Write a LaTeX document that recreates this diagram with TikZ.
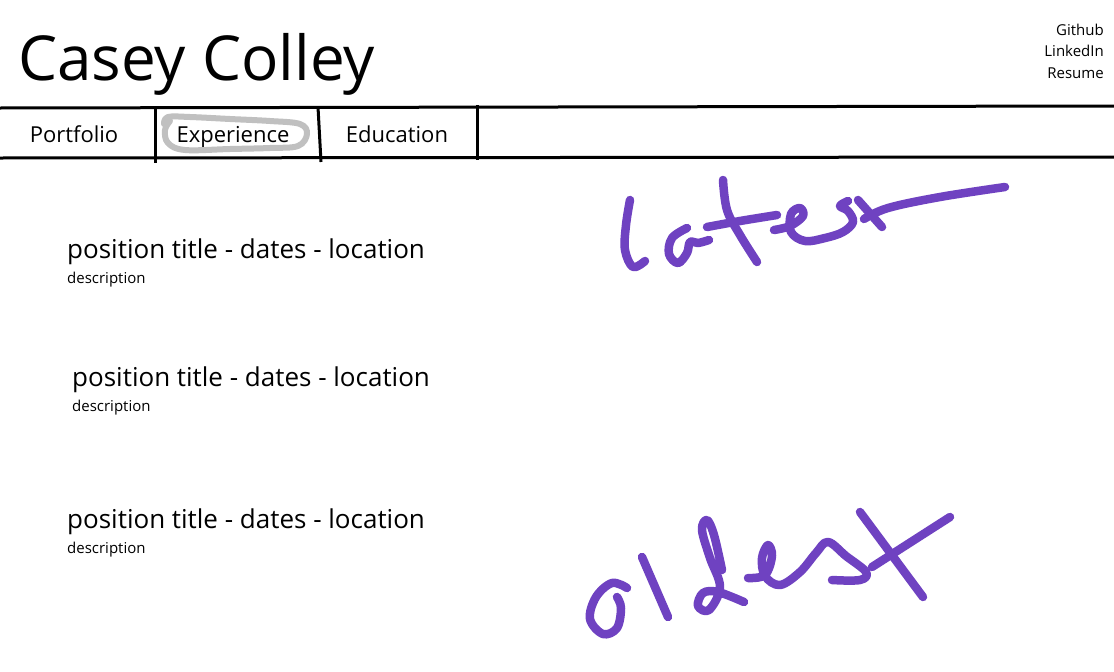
\documentclass[tikz,border=0pt]{standalone}
\usepackage{fontspec}
\setmainfont{Open Sans}
\usetikzlibrary{positioning,calc}
\definecolor{ink}{RGB}{111,66,193}
\definecolor{marker}{RGB}{192,192,192}

\begin{document}
\begin{tikzpicture}[x=1pt, y=-1pt,
    titletext/.style={font=\fontsize{62}{62}\selectfont, inner sep=0pt, anchor=base west},
    link/.style={font=\fontsize{15}{15}\selectfont, inner sep=0pt, anchor=base east},
    tab/.style={font=\fontsize{22}{22}\selectfont, inner sep=0pt, anchor=base},
    jobtitle/.style={font=\fontsize{26}{26}\selectfont, inner sep=0pt, anchor=base west},
    desc/.style={font=\fontsize{15}{15}\selectfont, inner sep=0pt, anchor=base west},
    rule/.style={line width=3pt},
    pen/.style={draw=ink, line width=8.5pt, line cap=round, line join=round}
  ]
    \useasboundingbox[fill=white] (0,0) rectangle (1114,672);

    % header
    \node[titletext] (name) at (18,80) {Casey Colley};
    \node[link] (github) at (1104,35) {Github};
    \node[link] (linkedin) at ([yshift=-21.5pt]github.base east) {LinkedIn};
    \node[link] (resume) at ([yshift=-21.5pt]linkedin.base east) {Resume};

    % tab bar
    \coordinate (barTL) at (0,108);
    \coordinate (barTR) at (1114,106);
    \coordinate (barBL) at (0,158);
    \coordinate (barBR) at (1114,157);
    \draw[rule] (barTL) -- (barTR);
    \draw[rule] (barBL) -- (barBR);
    \coordinate (div1t) at (155,108); \coordinate (div1b) at (155,163);
    \coordinate (div2t) at (318,107); \coordinate (div2b) at (321,162);
    \coordinate (div3t) at (477,105); \coordinate (div3b) at (477,160);
    \draw[rule] (div1t) -- (div1b);
    \draw[rule] (div2t) -- (div2b);
    \draw[rule] (div3t) -- (div3b);

    \node[tab] (portfolio) at (74,142) {Portfolio};
    \node[tab] (experience) at (233,142) {Experience};
    \node[tab] (education) at (397,142) {Education};

    % marker around the current tab
    \draw[marker, line width=6pt, line cap=round, line join=round]
      plot[smooth, tension=0.6] coordinates {(170,121) (165,130) (168,143) (185,150) (230,149)
        (270,148) (298,146) (307,134) (300,124) (270,121) (230,119) (190,117) (168,117) (164,124)};

    % entries
    \node[jobtitle] (job1) at (67,258) {position title - dates - location};
    \node[desc] (desc1) at ([yshift=-25pt]job1.base west) {description};
    \node[jobtitle] (job2) at (72,386) {position title - dates - location};
    \node[desc] (desc2) at ([yshift=-25pt]job2.base west) {description};
    \node[jobtitle] (job3) at (67,528) {position title - dates - location};
    \node[desc] (desc3) at ([yshift=-25pt]job3.base west) {description};

    % handwritten "latest"
    \draw[pen] plot[smooth, tension=0.6] coordinates {(630,200) (626,225) (625,250) (633,267) (645,261)};
    \draw[pen] plot[smooth, tension=0.6] coordinates {(687,228) (672,238) (669,254) (678,263)
      (687,253) (690,242) (698,243) (709,240)};
    \draw[pen] plot[smooth, tension=0.6] coordinates {(707,227) (740,221) (777,215)};
    \draw[pen] plot[smooth, tension=0.6] coordinates {(723,180) (727,210) (740,235) (757,262)};
    \draw[pen] plot[smooth, tension=0.6] coordinates {(774,230) (790,226) (803,216) (800,208)
      (791,214) (791,232) (805,241) (825,238) (843,232) (853,222) (848,211) (840,206) (848,201)};
    \draw[pen] (858,200) -- (882,227);
    \draw[pen] plot[smooth, tension=0.6] coordinates {(864,219) (888,208) (940,197) (1005,187)};

    % handwritten "oldest"
    \draw[pen] plot[smooth, tension=0.6] coordinates {(627,588) (612,583) (596,597) (590,619)
      (603,634) (617,628) (621,608) (617,597)};
    \draw[pen] (642,557) -- (668,617);
    \draw[pen] plot[smooth, tension=0.6] coordinates {(722,570) (714,535) (707,520) (702,530)
      (710,558) (720,587) (709,610) (698,606) (703,593) (718,592) (744,602)};
    \draw[pen] plot[smooth, tension=0.6] coordinates {(748,578) (765,575) (772,556) (768,545)
      (762,558) (765,576) (780,585) (800,572) (816,553) (828,542) (846,556) (866,572) (860,580) (832,580)};
    \draw[pen] (860,512) -- (923,597);
    \draw[pen] (872,567) -- (950,517);
  \end{tikzpicture}
\end{document}
